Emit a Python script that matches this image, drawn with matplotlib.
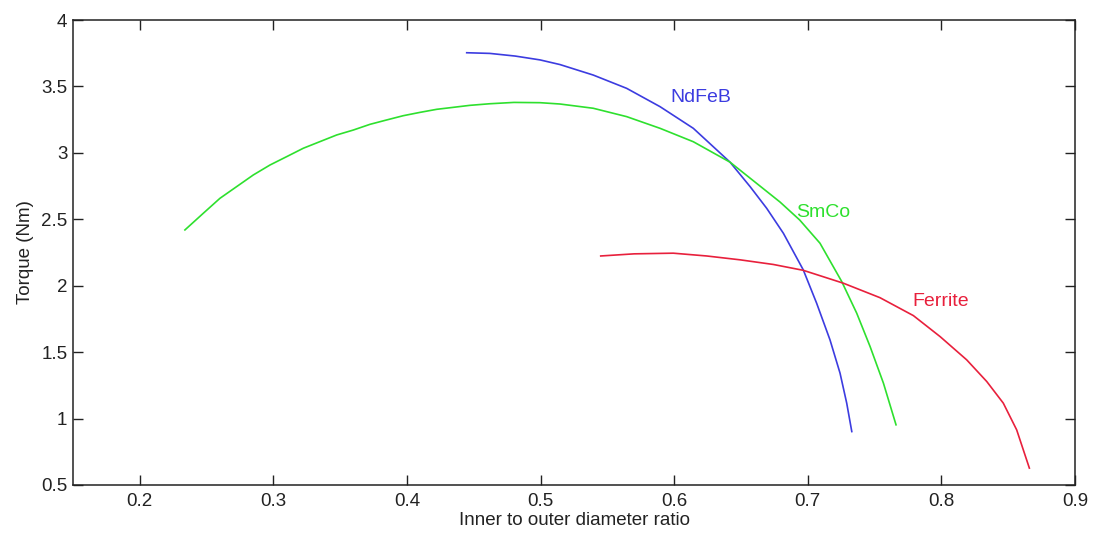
import matplotlib.pyplot as plt

# torque vs inner/outer diameter ratio for three magnet materials
ndfeb_x = [0.4447, 0.462, 0.481, 0.4996, 0.5145, 0.5394, 0.5644, 0.5894, 0.6143, 0.6418,
           0.6568, 0.6692, 0.6817, 0.6966, 0.7066, 0.7166, 0.7241, 0.7291, 0.7329]
ndfeb_y = [3.754, 3.749, 3.729, 3.700, 3.665, 3.586, 3.486, 3.348, 3.185, 2.930,
           2.746, 2.583, 2.395, 2.119, 1.868, 1.592, 1.342, 1.116, 0.902]

smco_x = [0.2338, 0.2475, 0.2600, 0.2725, 0.2850, 0.2975, 0.3100, 0.3224, 0.3349, 0.3474,
          0.3598, 0.3723, 0.3848, 0.3972, 0.4097, 0.4222, 0.4347, 0.4471, 0.462, 0.480,
          0.4996, 0.5145, 0.5394, 0.5644, 0.5894, 0.6143, 0.6418, 0.6655, 0.6792, 0.6939,
          0.7091, 0.7254, 0.7366, 0.7466, 0.7566, 0.7660]
smco_y = [2.420, 2.545, 2.658, 2.746, 2.834, 2.909, 2.972, 3.035, 3.085, 3.135,
          3.172, 3.215, 3.248, 3.280, 3.305, 3.328, 3.343, 3.358, 3.370, 3.380,
          3.378, 3.368, 3.336, 3.273, 3.185, 3.084, 2.930, 2.740, 2.630, 2.495,
          2.320, 2.031, 1.793, 1.542, 1.266, 0.953]

ferrite_x = [0.545, 0.570, 0.5993, 0.6243, 0.6493, 0.6742, 0.6966, 0.7266, 0.7540, 0.7790,
             0.7990, 0.8189, 0.8339, 0.8463, 0.8563, 0.8658]
ferrite_y = [2.224, 2.240, 2.245, 2.224, 2.195, 2.160, 2.116, 2.019, 1.910, 1.775,
             1.617, 1.442, 1.279, 1.116, 0.915, 0.627]

c_nd = '#3c3ce0'
c_sm = '#2ee02e'
c_fe = '#e8203c'
c_ax = '#222222'

plt.rcParams['font.family'] = ['Liberation Sans', 'DejaVu Sans']

fig = plt.figure(figsize=(10.97, 5.35), dpi=100)
ax = fig.add_axes([0.0665, 0.0935, 0.9135, 0.869])

ax.plot(ndfeb_x, ndfeb_y, color=c_nd, lw=1.2)
ax.plot(smco_x, smco_y, color=c_sm, lw=1.2)
ax.plot(ferrite_x, ferrite_y, color=c_fe, lw=1.2)

ax.text(0.597, 3.42, 'NdFeB', color=c_nd, fontsize=14, va='center')
ax.text(0.6915, 2.55, 'SmCo', color=c_sm, fontsize=14, va='center')
ax.text(0.778, 1.88, 'Ferrite', color=c_fe, fontsize=14, va='center')

ax.set_xlim(0.15, 0.9)
ax.set_ylim(0.5, 4)
ax.set_xticks([0.2, 0.3, 0.4, 0.5, 0.6, 0.7, 0.8, 0.9])
ax.set_xticklabels(['0.2', '0.3', '0.4', '0.5', '0.6', '0.7', '0.8', '0.9'])
ax.set_yticks([0.5, 1, 1.5, 2, 2.5, 3, 3.5, 4])
ax.set_yticklabels(['0.5', '1', '1.5', '2', '2.5', '3', '3.5', '4'])
ax.tick_params(direction='in', top=True, right=True, length=7, width=1,
               labelsize=13.5, colors=c_ax)
ax.tick_params(axis='x', pad=6)
ax.tick_params(axis='y', pad=4)
for s in ax.spines.values():
    s.set_linewidth(1.1)
    s.set_color(c_ax)

ax.set_xlabel('Inner to outer diameter ratio', fontsize=13.5, color=c_ax, labelpad=1)
ax.set_ylabel('Torque (Nm)', fontsize=13.5, color=c_ax, labelpad=5)

fig.savefig('out.png', dpi=100)
